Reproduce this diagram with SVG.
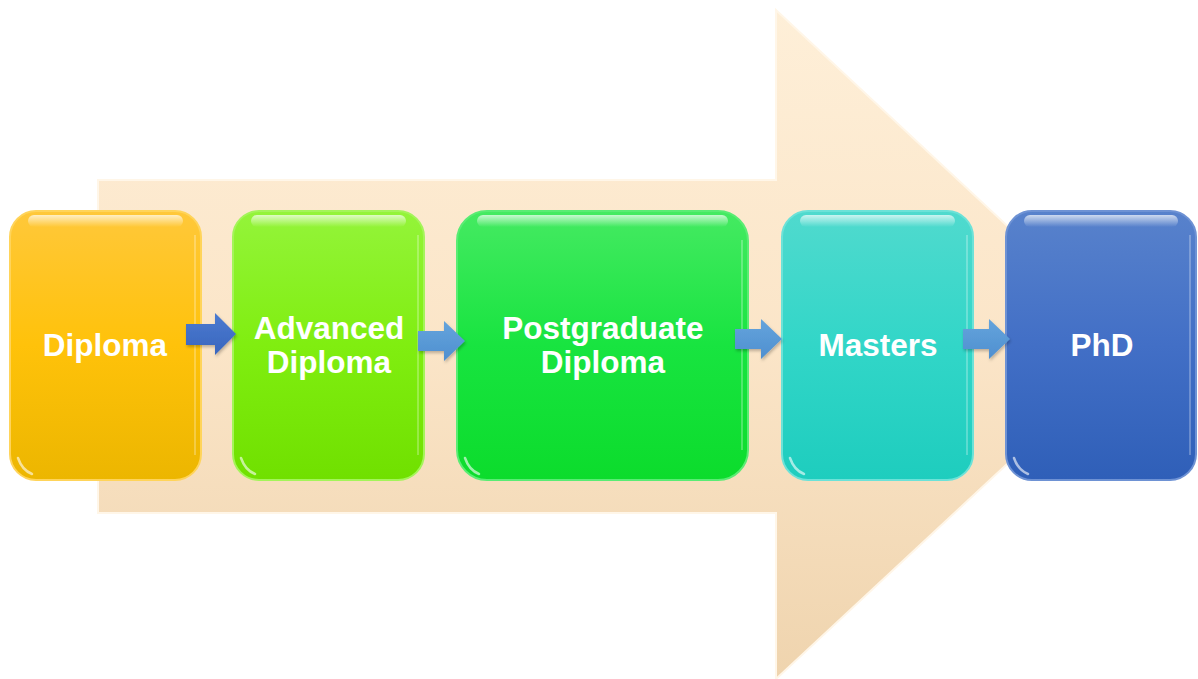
<svg xmlns="http://www.w3.org/2000/svg" width="1198" height="679" viewBox="0 0 1198 679">
<defs>
<linearGradient id="gBig" x1="0" y1="0" x2="0" y2="1"><stop offset="0" stop-color="#FEEFD8"/><stop offset="0.5" stop-color="#FBE5C8"/><stop offset="1" stop-color="#EFD4AE"/></linearGradient>
<linearGradient id="gOr" x1="0" y1="0" x2="0" y2="1"><stop offset="0" stop-color="#FFC83A"/><stop offset="0.5" stop-color="#FFC20A"/><stop offset="1" stop-color="#ECB600"/></linearGradient>
<linearGradient id="gLg" x1="0" y1="0" x2="0" y2="1"><stop offset="0" stop-color="#94F43A"/><stop offset="0.5" stop-color="#80EE10"/><stop offset="1" stop-color="#70E000"/></linearGradient>
<linearGradient id="gGr" x1="0" y1="0" x2="0" y2="1"><stop offset="0" stop-color="#45EA62"/><stop offset="0.5" stop-color="#18E440"/><stop offset="1" stop-color="#0CDC2C"/></linearGradient>
<linearGradient id="gTe" x1="0" y1="0" x2="0" y2="1"><stop offset="0" stop-color="#50DACE"/><stop offset="0.5" stop-color="#32D6C8"/><stop offset="1" stop-color="#1ECDBE"/></linearGradient>
<linearGradient id="gBl" x1="0" y1="0" x2="0" y2="1"><stop offset="0" stop-color="#5882CC"/><stop offset="0.5" stop-color="#426FC6"/><stop offset="1" stop-color="#2F5FB8"/></linearGradient>
<linearGradient id="gA1" x1="0" y1="0" x2="0" y2="1"><stop offset="0" stop-color="#4B7BD0"/><stop offset="1" stop-color="#3A66BE"/></linearGradient>
<linearGradient id="gA2" x1="0" y1="0" x2="0" y2="1"><stop offset="0" stop-color="#65A4DC"/><stop offset="1" stop-color="#4E8FD0"/></linearGradient>
<linearGradient id="gHi" x1="0" y1="0" x2="0" y2="1"><stop offset="0" stop-color="#FFFFFF" stop-opacity="0.7"/><stop offset="1" stop-color="#FFFFFF" stop-opacity="0"/></linearGradient>
<filter id="sh" x="-20%" y="-20%" width="140%" height="150%"><feDropShadow dx="1" dy="2" stdDeviation="1.5" flood-color="#000" flood-opacity="0.25"/></filter>
</defs>
<style>
.box{stroke-width:2}
.lbl{font-family:"Liberation Sans",Arial,sans-serif;font-weight:bold;font-size:31.5px;fill:#FFFFFF;text-anchor:middle}
.hi{fill:url(#gHi)}
.glint{fill:none;stroke:#FFFFFF;stroke-width:2.5;stroke-opacity:0.6;stroke-linecap:round}
.edge{fill:none;stroke:#FFFFFF;stroke-width:1.5;stroke-opacity:0.35}
</style>
<g id="background-arrow">
<polygon points="98,180 776,180 776,10 1135,345 776,679 776,513 98,513" fill="url(#gBig)" stroke="#FFF6E8" stroke-width="2"/>
</g>
<g id="node-diploma">
<rect x="10" y="211" width="191" height="269" rx="26" fill="url(#gOr)" stroke="#FFD45A" class="box"/>
<rect x="28" y="215" width="155" height="12" rx="6" class="hi"/>
<path d="M195,235 V455" class="edge"/>
<path d="M18,458 Q22,470 32,474" class="glint"/>
<text x="105" y="356" class="lbl">Diploma</text>
</g>
<g id="node-advanced-diploma">
<rect x="233" y="211" width="191" height="269" rx="26" fill="url(#gLg)" stroke="#A4F45A" class="box"/>
<rect x="251" y="215" width="155" height="12" rx="6" class="hi"/>
<path d="M418,235 V455" class="edge"/>
<path d="M241,458 Q245,470 255,474" class="glint"/>
<text x="329" y="339" class="lbl">Advanced</text>
<text x="329" y="373" class="lbl">Diploma</text>
</g>
<g id="node-postgraduate-diploma">
<rect x="457" y="211" width="291" height="269" rx="30" fill="url(#gGr)" stroke="#5AEC74" class="box"/>
<rect x="477" y="215" width="251" height="12" rx="6" class="hi"/>
<path d="M742,240 V450" class="edge"/>
<path d="M465,458 Q469,470 479,474" class="glint"/>
<text x="603" y="339" class="lbl">Postgraduate</text>
<text x="603" y="373" class="lbl">Diploma</text>
</g>
<g id="node-masters">
<rect x="782" y="211" width="191" height="269" rx="26" fill="url(#gTe)" stroke="#6CE2D8" class="box"/>
<rect x="800" y="215" width="155" height="12" rx="6" class="hi"/>
<path d="M967,235 V455" class="edge"/>
<path d="M790,458 Q794,470 804,474" class="glint"/>
<text x="878" y="356" class="lbl">Masters</text>
</g>
<g id="node-phd">
<rect x="1006" y="211" width="190" height="269" rx="26" fill="url(#gBl)" stroke="#6E92D4" class="box"/>
<rect x="1024" y="215" width="154" height="12" rx="6" class="hi"/>
<path d="M1190,235 V455" class="edge"/>
<path d="M1014,458 Q1018,470 1028,474" class="glint"/>
<text x="1102" y="356" class="lbl">PhD</text>
</g>
<g id="connectors" filter="url(#sh)">
<polygon points="186,324 215,324 215,313 236,334 215,355 215,345 186,345" fill="url(#gA1)"/>
<polygon points="418,331 444,331 444,321 465,341 444,361 444,351 418,351" fill="url(#gA2)"/>
<polygon points="735,329 761,329 761,319 782,339 761,359 761,349 735,349" fill="url(#gA2)"/>
<polygon points="963,329 989,329 989,319 1010,339 989,359 989,349 963,349" fill="url(#gA2)"/>
</g>
</svg>
